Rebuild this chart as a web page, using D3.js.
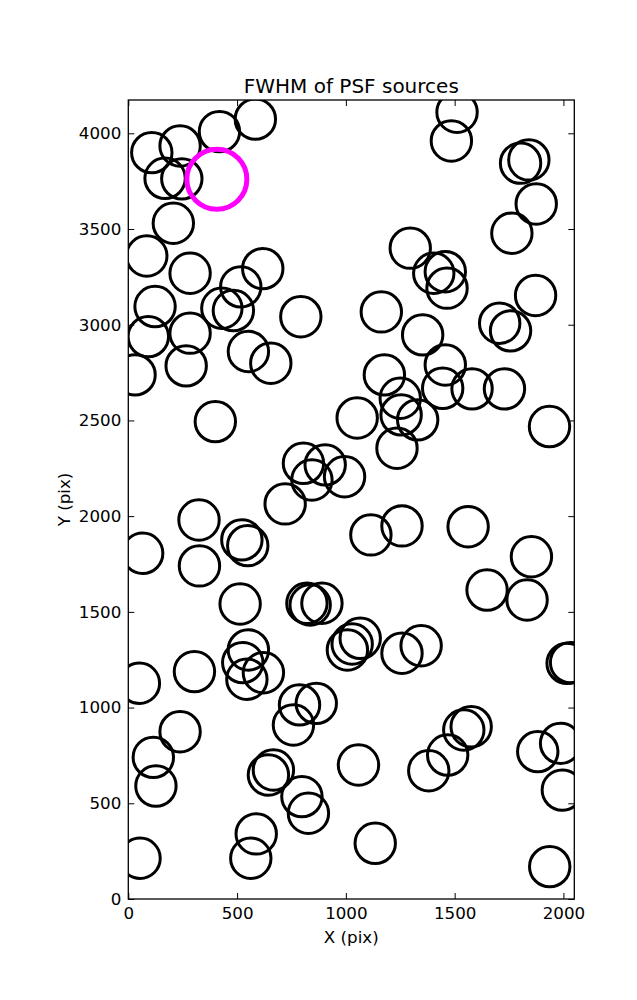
<!DOCTYPE html>
<html>
<head>
<meta charset="utf-8">
<script src="https://cdn.jsdelivr.net/npm/d3@7"></script>
<style>
  html, body { margin: 0; padding: 0; background: #fff; }
  svg { display: block; font-family: "DejaVu Sans", sans-serif; }
</style>
</head>
<body>
<svg id="chart" width="637" height="1000"></svg>
<script>
// PSF source positions (pixels on the detector)
const srcX = [108, 238, 419, 584, 169, 246, 207, 85, 284, 618, 517,
  1511, 1485, 1803, 1841, 1875, 1763, 1296, 1404, 1457, 1465, 1872, 1163,
  123, 92, 284, 31, 266, 430, 483, 552, 655, 793,
  400, 805, 905, 844, 994,
  1707, 1757, 1353, 1457, 1177, 1250, 1445, 1580, 1729, 1052, 1254, 1330, 1235, 1936,
  66, 325, 327, 522, 549, 514, 721, 821, 836, 890,
  552, 526, 545, 621, 304, 51,
  1115, 1258, 1562, 1853, 1649, 1833, 1007, 1029, 1066, 1258, 1346, 2017, 2033,
  787, 864, 759, 238, 115, 127, 644, 667, 798, 828, 588, 563, 54,
  1058, 1381, 1468, 1542, 1576, 1882, 1987, 1995, 1135, 1937];
const srcY = [3899, 3934, 4009, 4074, 3765, 3762, 3530, 3359, 3269, 3293, 3198,
  4110, 3960, 3844, 3861, 3631, 3478, 3400, 3269, 3277, 3191, 3153, 3067,
  3095, 2938, 2956, 2738, 2785, 3086, 3074, 2860, 2799, 3042,
  2494, 2276, 2268, 2189, 2206,
  3008, 2968, 2947, 2790, 2738, 2616, 2668, 2665, 2665, 2513, 2529, 2503, 2355, 2468,
  1806, 1980, 1740, 1876, 1846, 1541, 2064, 1545, 1536, 1545,
  1301, 1235, 1148, 1182, 1188, 1127,
  1902, 1949, 1945, 1788, 1614, 1562, 1301, 1332, 1362, 1284, 1323, 1231, 1235,
  1014, 1022, 909, 874, 740, 590, 648, 674, 535, 448, 340, 213, 213,
  700, 670, 752, 883, 900, 770, 813, 569, 291, 169];
// highlighted source
const markX = [407];
const markY = [3760];

const xTicks = [0, 500, 1000, 1500, 2000];
const yTicks = [0, 500, 1000, 1500, 2000, 2500, 3000, 3500, 4000];
const titleText = "FWHM of PSF sources";
const xLabel = "X (pix)";
const yLabel = "Y (pix)";

const L = 128.3, R = 574.3, T = 100, B = 899;
const svg = d3.select("#chart");
const x = d3.scaleLinear().domain([0, 2050]).range([L, R]);
const y = d3.scaleLinear().domain([0, 4174]).range([B, T]);
const fmt = d3.format("d");

svg.append("defs").append("clipPath").attr("id", "clip")
  .append("rect").attr("x", L).attr("y", T).attr("width", R - L).attr("height", B - T);

const g = svg.append("g").attr("clip-path", "url(#clip)");
g.selectAll("circle.src").data(d3.range(srcX.length)).join("circle")
  .attr("class", "src")
  .attr("cx", i => x(srcX[i])).attr("cy", i => y(srcY[i]))
  .attr("r", 20.2)
  .attr("fill", "none").attr("stroke", "#000").attr("stroke-width", 3);
g.selectAll("circle.mark").data(d3.range(markX.length)).join("circle")
  .attr("class", "mark")
  .attr("cx", i => x(markX[i])).attr("cy", i => y(markY[i]))
  .attr("r", 30)
  .attr("fill", "none").attr("stroke", "#ff00ff").attr("stroke-width", 5);

function styleAxis(sel) {
  sel.select(".domain").remove();
  sel.selectAll(".tick line").attr("stroke", "#000").attr("stroke-width", 1);
  sel.selectAll(".tick text").attr("fill", "#000").style("font-size", "16.7px")
    .style("font-family", "DejaVu Sans, sans-serif");
}
svg.append("g").attr("transform", `translate(0,${B})`)
  .call(d3.axisBottom(x).tickValues(xTicks).tickSize(-6).tickPadding(8).tickFormat(fmt))
  .call(styleAxis);
svg.append("g").attr("transform", `translate(0,${T})`)
  .call(d3.axisTop(x).tickValues(xTicks).tickSize(-6).tickFormat(""))
  .call(styleAxis);
svg.append("g").attr("transform", `translate(${L},0)`)
  .call(d3.axisLeft(y).tickValues(yTicks).tickSize(-6).tickPadding(7).tickFormat(fmt))
  .call(styleAxis);
svg.append("g").attr("transform", `translate(${R},0)`)
  .call(d3.axisRight(y).tickValues(yTicks).tickSize(-6).tickFormat(""))
  .call(styleAxis);

svg.append("rect").attr("x", L).attr("y", T).attr("width", R - L).attr("height", B - T)
  .attr("fill", "none").attr("stroke", "#000").attr("stroke-width", 1.3);

svg.append("text").attr("x", (L + R) / 2).attr("y", 93).attr("text-anchor", "middle")
  .style("font-size", "20px").text(titleText);
svg.append("text").attr("x", (L + R) / 2).attr("y", 943).attr("text-anchor", "middle")
  .style("font-size", "16.7px").text(xLabel);
svg.append("text").attr("transform", `translate(70,${(T + B) / 2}) rotate(-90)`)
  .attr("text-anchor", "middle").style("font-size", "16.7px").text(yLabel);
</script>
</body>
</html>
